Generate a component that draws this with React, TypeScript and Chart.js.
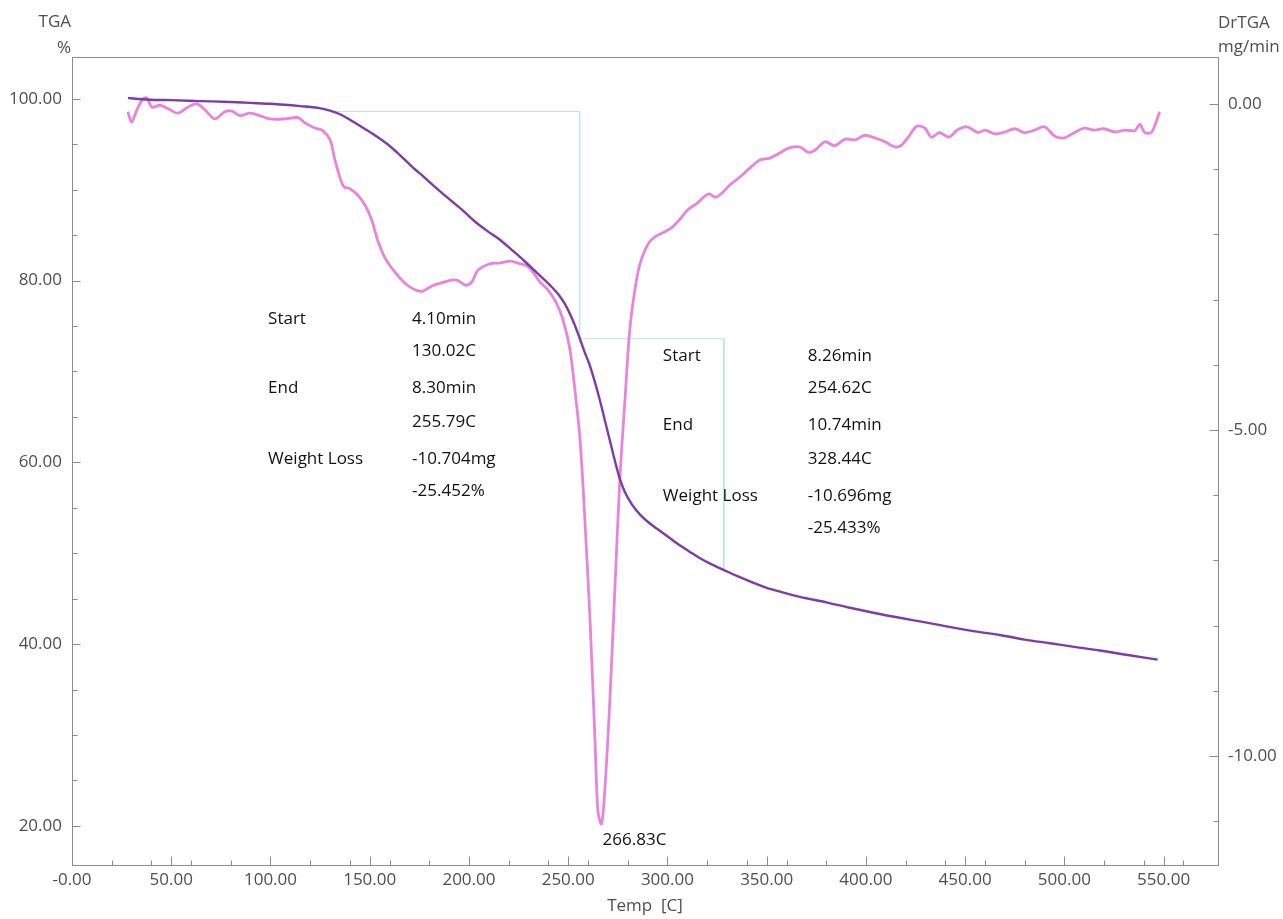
import React, { useEffect, useRef } from "react";
import { Chart, registerables } from "chart.js";

Chart.register(...registerables);

const FONT = '"Open Sans", "Noto Sans", sans-serif';

// TGA weight curve (%), left axis
const tgaTemp = [28.2, 32, 39.3, 50, 64.5, 80, 89.7, 100, 114.9, 124, 130, 135, 140, 146, 152.6, 159, 165.2, 171, 177.8, 184, 190.4, 197, 203, 209, 215.6, 222, 228.2, 234, 240.8, 245, 248.4, 252, 255.4, 258, 261, 263.5, 266, 268.5, 271, 273.5, 276, 278.6, 282, 286, 291, 296, 301, 306, 311, 316, 322, 328, 335, 341.6, 350, 358, 366.8, 380, 392, 405, 417, 430, 442, 455, 467.5, 480, 492.7, 505, 518, 532, 547];
const tgaPct = [100.1, 100.0, 99.9, 99.85, 99.75, 99.65, 99.55, 99.45, 99.2, 99.0, 98.7, 98.3, 97.7, 96.9, 96.0, 95.0, 93.8, 92.6, 91.3, 90.1, 88.9, 87.7, 86.5, 85.5, 84.5, 83.3, 82.1, 80.9, 79.5, 78.5, 77.4, 75.8, 73.9, 72.3, 70.6, 68.8, 66.8, 64.6, 62.4, 60.2, 58.2, 56.7, 55.4, 54.3, 53.3, 52.5, 51.7, 50.9, 50.2, 49.5, 48.8, 48.2, 47.5, 46.9, 46.2, 45.7, 45.2, 44.6, 44.0, 43.4, 42.9, 42.4, 41.9, 41.4, 41.0, 40.5, 40.1, 39.7, 39.3, 38.8, 38.3];

// DrTGA derivative curve (mg/min), right axis
const dtgTemp = [28.2, 30, 32.7, 35.8, 37.8, 40.3, 44.3, 49.4, 53.4, 59.4, 63, 67, 72, 77, 80.6, 84.6, 89.7, 94.7, 99.7, 107, 113.9, 117.4, 122.4, 126, 130, 132.5, 135, 137, 140, 144, 147.6, 151, 154, 157.7, 162.7, 167.8, 172.8, 176.8, 181.4, 185.4, 191.4, 194.5, 198.5, 201.5, 204.5, 210.6, 215.6, 220.7, 224.7, 228.2, 230.7, 235.8, 239.8, 243.8, 247.4, 250.9, 253.4, 256, 258.4, 261, 263.5, 265, 266.83, 268.5, 271, 273.5, 276, 278.6, 281, 283.6, 286, 290, 293.7, 298.7, 302, 306, 310, 315, 319, 321, 324.4, 328, 331.5, 336.5, 341.6, 346.6, 351.6, 356.7, 361.7, 366.8, 370.8, 374.3, 379.3, 384.4, 389.4, 394.5, 399.5, 404.5, 409.6, 414.6, 418, 422, 425.7, 429.7, 433, 437, 442, 446, 451, 456.4, 460, 465, 470, 475, 480, 485, 490, 495, 500, 505, 510, 515, 520, 525.4, 530.5, 535.5, 538, 540.5, 544, 548];
const dtgRate = [-0.12, -0.28, -0.09, 0.08, 0.09, -0.05, -0.02, -0.09, -0.14, -0.03, 0.0, -0.09, -0.23, -0.12, -0.11, -0.18, -0.14, -0.18, -0.23, -0.23, -0.21, -0.29, -0.37, -0.4, -0.55, -0.86, -1.13, -1.27, -1.3, -1.4, -1.55, -1.78, -2.09, -2.36, -2.58, -2.75, -2.85, -2.87, -2.79, -2.75, -2.7, -2.71, -2.78, -2.73, -2.55, -2.45, -2.44, -2.41, -2.44, -2.47, -2.52, -2.73, -2.85, -3.04, -3.31, -3.77, -4.39, -5.15, -6.38, -7.91, -9.75, -10.85, -11.04, -10.5, -9.14, -7.45, -5.77, -4.54, -3.47, -2.85, -2.47, -2.16, -2.04, -1.96, -1.9, -1.78, -1.63, -1.52, -1.41, -1.38, -1.43, -1.35, -1.24, -1.12, -0.98, -0.86, -0.83, -0.75, -0.67, -0.66, -0.74, -0.71, -0.58, -0.64, -0.54, -0.55, -0.48, -0.52, -0.58, -0.66, -0.63, -0.48, -0.34, -0.37, -0.51, -0.44, -0.51, -0.4, -0.35, -0.44, -0.4, -0.46, -0.43, -0.38, -0.44, -0.4, -0.35, -0.49, -0.52, -0.44, -0.37, -0.4, -0.38, -0.43, -0.4, -0.41, -0.31, -0.44, -0.43, -0.12];

// Weight-loss step markers (temperature, %)
const step1Temps = [130.02, 255.79, 255.79];
const step1Pcts = [98.6, 98.6, 73.148];
const step2Temps = [254.62, 328.44, 328.44];
const step2Pcts = [73.6, 73.6, 48.167];

// Step annotations: [label, value] per row
const step1Rows = [["Start", "4.10min"], ["", "130.02C"], ["End", "8.30min"], ["", "255.79C"], ["Weight Loss", "-10.704mg"], ["", "-25.452%"]];
const step2Rows = [["Start", "8.26min"], ["", "254.62C"], ["End", "10.74min"], ["", "328.44C"], ["Weight Loss", "-10.696mg"], ["", "-25.433%"]];

const peakTemp = 266.83;
const peakRate = -11.04;
const peakLabel = "266.83C";

// Axis ticks
const xMajorTicks = [0, 50, 100, 150, 200, 250, 300, 350, 400, 450, 500, 550];
const xTickLabels = ["-0.00", "50.00", "100.00", "150.00", "200.00", "250.00", "300.00", "350.00", "400.00", "450.00", "500.00", "550.00"];
const xMinorTicks = [20, 40, 60, 80, 120, 140, 160, 180, 220, 240, 260, 280, 320, 340, 360, 380, 420, 440, 460, 480, 520, 540, 560];
const tgaMajorTicks = [20, 40, 60, 80, 100];
const tgaMinorTicks = [25, 30, 35, 45, 50, 55, 65, 70, 75, 85, 90, 95];
const dtgMajorTicks = [0, -5, -10];
const dtgMinorTicks = [-1, -2, -3, -4, -6, -7, -8, -9, -11];

const xTitle = "Temp  [C]";
const leftTitle = ["TGA", "%"];
const rightTitle = ["DrTGA", "mg/min"];

const AXIS_COLOR = "#8c8c8c";
const LABEL_COLOR = "#4f4f4f";
const STEP_COLOR = "#b8e6ee";
const TEXT_SIZE = 17;

const toPoints = (xs: number[], ys: number[]) => xs.map((x, i) => ({ x, y: ys[i] }));

const framePlugin = {
  id: "thermoFrame",
  afterDraw(chart: any) {
    const { ctx, chartArea: a, scales } = chart;
    const xs = scales.x, yl = scales.y, yr = scales.y1;
    ctx.save();
    ctx.strokeStyle = AXIS_COLOR;
    ctx.lineWidth = 1;
    ctx.strokeRect(Math.round(a.left) + 0.5, Math.round(a.top) + 0.5, Math.round(a.right - a.left), Math.round(a.bottom - a.top));

    const line = (x1: number, y1: number, x2: number, y2: number) => {
      ctx.beginPath();
      ctx.moveTo(x1, y1);
      ctx.lineTo(x2, y2);
      ctx.stroke();
    };
    const b = Math.round(a.bottom) + 0.5;
    const l = Math.round(a.left) + 0.5;
    const r = Math.round(a.right) + 0.5;
    xMajorTicks.forEach((v) => { const p = Math.round(xs.getPixelForValue(v)) + 0.5; line(p, b, p, b - 9); });
    xMinorTicks.forEach((v) => { const p = Math.round(xs.getPixelForValue(v)) + 0.5; line(p, b, p, b - 5); });
    tgaMajorTicks.forEach((v) => { const p = Math.round(yl.getPixelForValue(v)) + 0.5; line(l, p, l + 8, p); });
    tgaMinorTicks.forEach((v) => { const p = Math.round(yl.getPixelForValue(v)) + 0.5; line(l, p, l + 5, p); });
    dtgMajorTicks.forEach((v) => { const p = Math.round(yr.getPixelForValue(v)) + 0.5; line(r, p, r - 9, p); });
    dtgMinorTicks.forEach((v) => { const p = Math.round(yr.getPixelForValue(v)) + 0.5; line(r, p, r - 5, p); });

    // axis titles
    ctx.fillStyle = LABEL_COLOR;
    ctx.font = `${TEXT_SIZE}px ${FONT}`;
    ctx.textBaseline = "middle";
    ctx.textAlign = "right";
    ctx.fillText(leftTitle[0], a.left - 1, 22);
    ctx.fillText(leftTitle[1], a.left - 1, 48);
    ctx.textAlign = "left";
    ctx.fillText(rightTitle[0], a.right, 23);
    ctx.fillText(rightTitle[1], a.right, 47);
    ctx.textAlign = "center";
    ctx.fillText(xTitle, (a.left + a.right) / 2, a.bottom + 41);

    // step annotations
    ctx.fillStyle = "#121212";
    ctx.textAlign = "left";
    const rowOffsets = [0, 32, 69, 103, 140, 172];
    const block = (rows: string[][], t: number, pct: number, gap: number) => {
      const x0 = xs.getPixelForValue(t);
      const y0 = yl.getPixelForValue(pct);
      rows.forEach((row, i) => {
        if (row[0]) ctx.fillText(row[0], x0, y0 + rowOffsets[i]);
        ctx.fillText(row[1], x0 + gap, y0 + rowOffsets[i]);
      });
    };
    block(step1Rows, 98.8, 75.8, 144);
    block(step2Rows, 297.7, 71.7, 145);

    // peak label
    const px = xs.getPixelForValue(peakTemp);
    const py = yr.getPixelForValue(peakRate);
    ctx.fillText(peakLabel, px + 1, py + 16);
    ctx.restore();
  },
};

export default function App() {
  const canvasRef = useRef<HTMLCanvasElement | null>(null);

  useEffect(() => {
    if (!canvasRef.current) return;
    const tickFont = { family: FONT, size: TEXT_SIZE };
    const chart = new Chart(canvasRef.current, {
      type: "line",
      data: {
        datasets: [
          {
            label: "TGA",
            data: toPoints(tgaTemp, tgaPct),
            yAxisID: "y",
            borderColor: "#7d3ca6",
            borderWidth: 2.4,
            pointRadius: 0,
            cubicInterpolationMode: "monotone",
          },
          {
            label: "DrTGA",
            data: toPoints(dtgTemp, dtgRate),
            yAxisID: "y1",
            borderColor: "#e884dc",
            borderWidth: 2.8,
            pointRadius: 0,
            tension: 0.3,
          },
          {
            label: "Step 1",
            data: toPoints(step1Temps, step1Pcts),
            yAxisID: "y",
            borderColor: STEP_COLOR,
            borderWidth: 1,
            pointRadius: 0,
            tension: 0,
          },
          {
            label: "Step 2",
            data: toPoints(step2Temps, step2Pcts),
            yAxisID: "y",
            borderColor: STEP_COLOR,
            borderWidth: 1,
            pointRadius: 0,
            tension: 0,
          },
        ],
      },
      options: {
        animation: false,
        responsive: true,
        maintainAspectRatio: false,
        layout: { padding: { top: 57, left: 0, right: 0, bottom: 0 } },
        plugins: { legend: { display: false }, tooltip: { enabled: false } },
        scales: {
          x: {
            type: "linear",
            position: "bottom",
            min: 0,
            max: 577.4,
            afterBuildTicks: (s: any) => { s.ticks = xMajorTicks.map((v) => ({ value: v })); },
            afterFit: (s: any) => { s.height = 54; },
            grid: { display: false, drawTicks: false },
            border: { display: false },
            ticks: {
              autoSkip: false,
              maxRotation: 0,
              padding: 5,
              color: LABEL_COLOR,
              font: tickFont,
              callback: (_v: any, i: number) => xTickLabels[i],
            },
          },
          y: {
            type: "linear",
            position: "left",
            min: 15.7,
            max: 104.6,
            afterBuildTicks: (s: any) => { s.ticks = tgaMajorTicks.map((v) => ({ value: v })); },
            afterFit: (s: any) => { s.width = 72; },
            grid: { display: false, drawTicks: false },
            border: { display: false },
            ticks: {
              padding: 10,
              color: LABEL_COLOR,
              font: tickFont,
              callback: (v: any) => Number(v).toFixed(2),
            },
          },
          y1: {
            type: "linear",
            position: "right",
            min: -11.67,
            max: 0.72,
            afterBuildTicks: (s: any) => { s.ticks = dtgMajorTicks.map((v) => ({ value: v })); },
            afterFit: (s: any) => { s.width = 65; },
            grid: { display: false, drawTicks: false },
            border: { display: false },
            ticks: {
              padding: 10,
              color: LABEL_COLOR,
              font: tickFont,
              callback: (v: any) => Number(v).toFixed(2),
            },
          },
        },
      },
      plugins: [framePlugin],
    } as any);
    return () => chart.destroy();
  }, []);

  return (
    <div style={{ position: "absolute", left: 0, top: 0, width: 1283, height: 919, background: "#ffffff" }}>
      <canvas ref={canvasRef} />
    </div>
  );
}
